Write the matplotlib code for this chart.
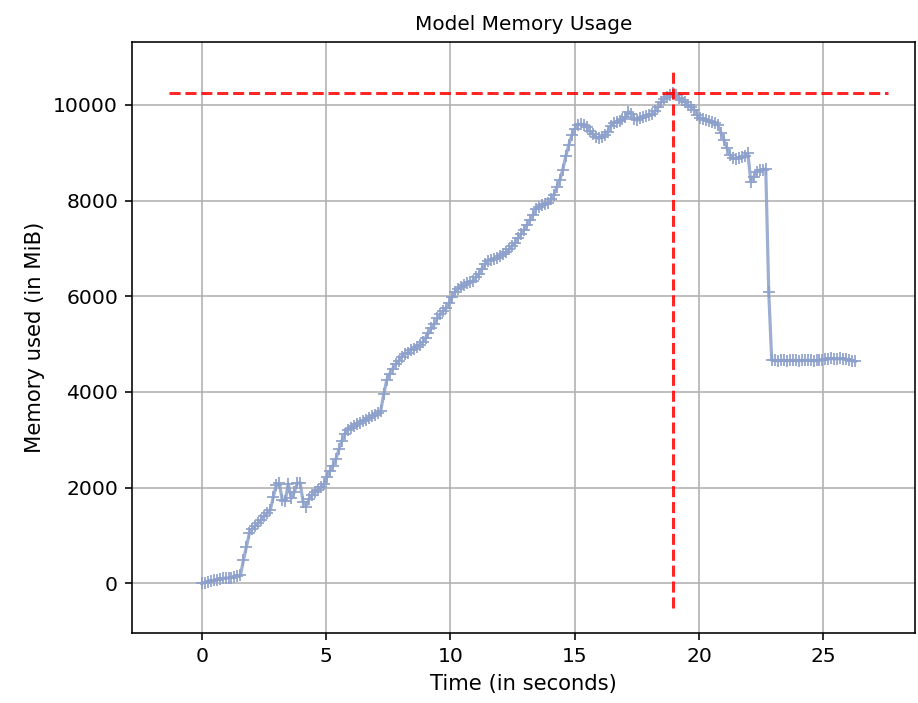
import numpy as np
import matplotlib
matplotlib.use("Agg")
import matplotlib.pyplot as plt

# ---- data -------------------------------------------------------------
sample_interval_s = 0.12  # polling interval of the memory monitor

memory_mib = [
    0, 10, 30, 40, 60, 70, 80, 100, 110, 110,
    120, 130, 150, 170, 480, 760, 1050, 1140, 1200, 1260,
    1330, 1400, 1460, 1530, 1800, 2050, 2090, 1750, 1720, 2080,
    1780, 1900, 2090, 2100, 1700, 1600, 1760, 1850, 1900, 1960,
    2010, 2080, 2220, 2350, 2460, 2600, 2800, 2980, 3130, 3210,
    3250, 3290, 3330, 3360, 3390, 3420, 3450, 3490, 3520, 3550,
    3610, 3950, 4250, 4380, 4490, 4580, 4650, 4740, 4790, 4820,
    4870, 4900, 4950, 4990, 5040, 5130, 5230, 5330, 5420, 5540,
    5620, 5690, 5760, 5850, 5990, 6100, 6160, 6200, 6230, 6270,
    6300, 6330, 6400, 6470, 6580, 6680, 6730, 6760, 6780, 6800,
    6840, 6880, 6920, 6980, 7050, 7120, 7210, 7300, 7390, 7490,
    7590, 7700, 7820, 7870, 7900, 7930, 7960, 8030, 8120, 8280,
    8430, 8650, 8930, 9160, 9370, 9500, 9580, 9600, 9590, 9540,
    9450, 9390, 9340, 9300, 9330, 9380, 9440, 9560, 9620, 9650,
    9670, 9700, 9740, 9860, 9820, 9700, 9680, 9720, 9740, 9760,
    9790, 9820, 9870, 9960, 10060, 10120, 10170, 10210, 10245, 10200,
    10150, 10110, 10060, 10000, 9950, 9900, 9800, 9730, 9700, 9680,
    9660, 9650, 9620, 9580, 9420, 9270, 9100, 8960, 8890, 8880,
    8900, 8920, 8940, 8990, 8400, 8500, 8600, 8640, 8650, 8660,
    6080, 4660, 4660, 4650, 4660, 4660, 4650, 4660, 4660, 4660,
    4650, 4660, 4660, 4660, 4660, 4650, 4660, 4660, 4670, 4690,
    4690, 4700, 4690, 4690, 4700, 4690, 4680, 4670, 4650, 4640,
]

title = "Model Memory Usage"
x_label = "Time (in seconds)"
y_label = "Memory used (in MiB)"
x_ticks = [0, 5, 10, 15, 20, 25]
y_ticks = [0, 2000, 4000, 6000, 8000, 10000]

# ---- figure -----------------------------------------------------------
S = 1.44  # scale factor for point sizes
fig = plt.figure(figsize=(9.18, 7.03), dpi=100)
ax = fig.add_axes([132 / 918, 70 / 703, 783 / 918, 591 / 703])

times = np.arange(len(memory_mib)) * sample_interval_s
mem = np.asarray(memory_mib, dtype=float)

ax.plot(times, mem, color="#8da0cb", lw=1.6 * S, marker="+",
        markersize=8, markeredgewidth=1.0 * S, alpha=0.85, zorder=3)

peak_idx = int(np.argmax(mem))
peak_val = mem[peak_idx]
peak_t = times[peak_idx]
t_end = times[-1]
ax.hlines(peak_val, -0.05 * t_end, 1.05 * t_end, colors="red",
          linestyles="--", lw=1.5 * S, alpha=0.85, zorder=4)
ax.vlines(peak_t, -0.05 * peak_val, 1.05 * peak_val, colors="red",
          linestyles="--", lw=1.5 * S, alpha=0.85, zorder=4)

ax.set_xlim(-2.80, 28.68)
ax.set_ylim(-1040, 11317)
ax.set_xticks(x_ticks)
ax.set_yticks(y_ticks)
ax.grid(True, color="#b0b0b0", lw=0.8 * S)
ax.set_axisbelow(True)

for sp in ax.spines.values():
    sp.set_linewidth(0.8 * S)
ax.tick_params(labelsize=14.6, length=3.5 * S, width=0.8 * S, pad=3.5 * S)

ax.set_title(title, fontsize=14.4, pad=6 * S)
ax.set_xlabel(x_label, fontsize=15.2, labelpad=4 * S)
ax.set_ylabel(y_label, fontsize=15.2, labelpad=4 * S)

fig.savefig("out.png", dpi=100)
